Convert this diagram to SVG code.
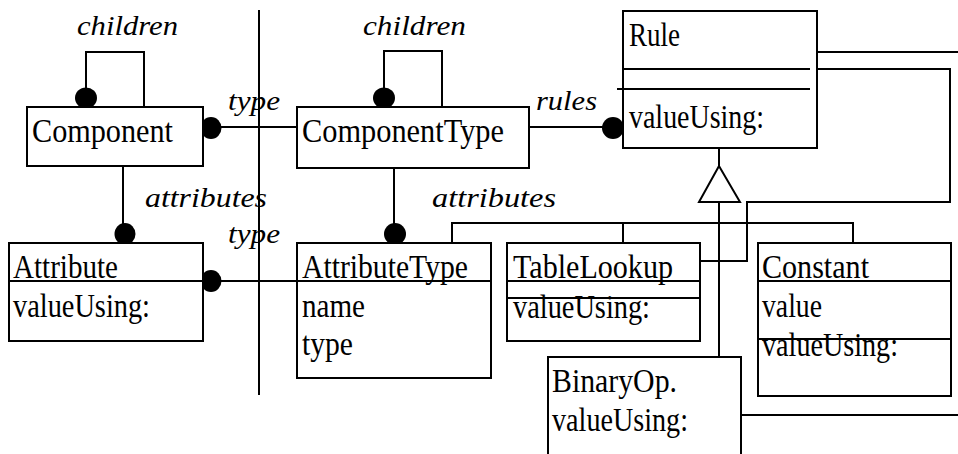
<svg xmlns="http://www.w3.org/2000/svg" width="958" height="454" viewBox="0 0 958 454">
<style>
.box{fill:#fff;stroke:#000;stroke-width:2}
.ln{fill:none;stroke:#000;stroke-width:2}
.t{font-family:"Liberation Serif","Times New Roman",serif;font-size:33px;fill:#000}
.lbl{font-family:"Liberation Serif","Times New Roman",serif;font-size:28px;font-style:italic;fill:#000}
.dot{fill:#000}
</style>
<rect width="958" height="454" fill="#fff"/>
<g id="divider"><line class="ln" x1="259" y1="10" x2="259" y2="395"/></g>
<g id="connectors">
<path class="ln" d="M86 107 V52 H144 V107"/>
<path class="ln" d="M384 107 V51 H442 V107"/>
<line class="ln" x1="211" y1="127" x2="297" y2="127"/>
<line class="ln" x1="529" y1="127" x2="613" y2="127"/>
<line class="ln" x1="123" y1="166" x2="123" y2="233"/>
<line class="ln" x1="394" y1="168" x2="394" y2="233"/>
<line class="ln" x1="211" y1="281" x2="297" y2="281"/>
<line class="ln" x1="719" y1="148" x2="719" y2="166"/>
<polygon class="ln" points="719,166 699,202 740,202"/>
<line class="ln" x1="719" y1="202" x2="719" y2="357"/>
<path class="ln" d="M452 243 V223 H853 V243"/>
<line class="ln" x1="623" y1="223" x2="623" y2="243"/>
<line class="ln" x1="815" y1="52" x2="958" y2="52"/>
<path class="ln" d="M815 69 H950 V202 H747 V261 H700"/>
<line class="ln" x1="741" y1="415" x2="958" y2="415"/>
<ellipse class="dot" cx="86" cy="98" rx="11" ry="10.5"/>
<ellipse class="dot" cx="384" cy="98" rx="11" ry="10.5"/>
<ellipse class="dot" cx="211" cy="128" rx="10.5" ry="11"/>
<ellipse class="dot" cx="613" cy="128" rx="11" ry="11"/>
<ellipse class="dot" cx="125" cy="234" rx="10.5" ry="11"/>
<ellipse class="dot" cx="395" cy="234" rx="11" ry="11"/>
<ellipse class="dot" cx="211" cy="281" rx="10.5" ry="11"/>
<text class="lbl" x="77" y="35" textLength="101" lengthAdjust="spacingAndGlyphs">children</text>
<text class="lbl" x="363" y="35" textLength="103" lengthAdjust="spacingAndGlyphs">children</text>
<text class="lbl" x="228" y="110" textLength="52" lengthAdjust="spacingAndGlyphs">type</text>
<text class="lbl" x="536" y="110" textLength="61" lengthAdjust="spacingAndGlyphs">rules</text>
<text class="lbl" x="145" y="207" textLength="122" lengthAdjust="spacingAndGlyphs">attributes</text>
<text class="lbl" x="432" y="207" textLength="124" lengthAdjust="spacingAndGlyphs">attributes</text>
<text class="lbl" x="228" y="243" textLength="52" lengthAdjust="spacingAndGlyphs">type</text>
</g>
<g id="Component">
<rect class="box" x="27" y="107" width="176" height="59"/>
<text class="t" x="32" y="142" textLength="141" lengthAdjust="spacingAndGlyphs">Component</text>
</g>
<g id="ComponentType">
<rect class="box" x="297" y="107" width="232" height="61"/>
<text class="t" x="302" y="142" textLength="202" lengthAdjust="spacingAndGlyphs">ComponentType</text>
</g>
<g id="Rule">
<rect class="box" x="623" y="11" width="194" height="137"/>
<line class="ln" x1="623" y1="69" x2="810" y2="69"/>
<line class="ln" x1="617" y1="89" x2="810" y2="89"/>
<text class="t" x="629" y="46" textLength="51" lengthAdjust="spacingAndGlyphs">Rule</text>
<text class="t" x="629" y="128" textLength="135" lengthAdjust="spacingAndGlyphs">valueUsing:</text>
</g>
<g id="Attribute">
<rect class="box" x="9" y="243" width="194" height="98"/>
<line class="ln" x1="9" y1="281" x2="203" y2="281"/>
<text class="t" x="13" y="278" textLength="105" lengthAdjust="spacingAndGlyphs">Attribute</text>
<text class="t" x="13" y="317" textLength="137" lengthAdjust="spacingAndGlyphs">valueUsing:</text>
</g>
<g id="AttributeType">
<rect class="box" x="297" y="243" width="194" height="135"/>
<line class="ln" x1="297" y1="281" x2="491" y2="281"/>
<text class="t" x="302" y="278" textLength="166" lengthAdjust="spacingAndGlyphs">AttributeType</text>
<text class="t" x="302" y="317" textLength="63" lengthAdjust="spacingAndGlyphs">name</text>
<text class="t" x="302" y="355" textLength="51" lengthAdjust="spacingAndGlyphs">type</text>
</g>
<g id="TableLookup">
<rect class="box" x="507" y="243" width="193" height="98"/>
<line class="ln" x1="507" y1="281" x2="700" y2="281"/>
<line class="ln" x1="507" y1="298" x2="700" y2="298"/>
<text class="t" x="513" y="278" textLength="160" lengthAdjust="spacingAndGlyphs">TableLookup</text>
<text class="t" x="513" y="318" textLength="137" lengthAdjust="spacingAndGlyphs">valueUsing:</text>
</g>
<g id="Constant">
<rect class="box" x="758" y="243" width="193" height="153"/>
<line class="ln" x1="758" y1="281" x2="951" y2="281"/>
<line class="ln" x1="758" y1="339" x2="951" y2="339"/>
<text class="t" x="762" y="278" textLength="107" lengthAdjust="spacingAndGlyphs">Constant</text>
<text class="t" x="762" y="317" textLength="60" lengthAdjust="spacingAndGlyphs">value</text>
<text class="t" x="762" y="356" textLength="136" lengthAdjust="spacingAndGlyphs">valueUsing:</text>
</g>
<g id="BinaryOp">
<rect class="box" x="548" y="357" width="193" height="100"/>
<text class="t" x="552" y="392" textLength="125" lengthAdjust="spacingAndGlyphs">BinaryOp.</text>
<text class="t" x="552" y="431" textLength="136" lengthAdjust="spacingAndGlyphs">valueUsing:</text>
</g>
</svg>
